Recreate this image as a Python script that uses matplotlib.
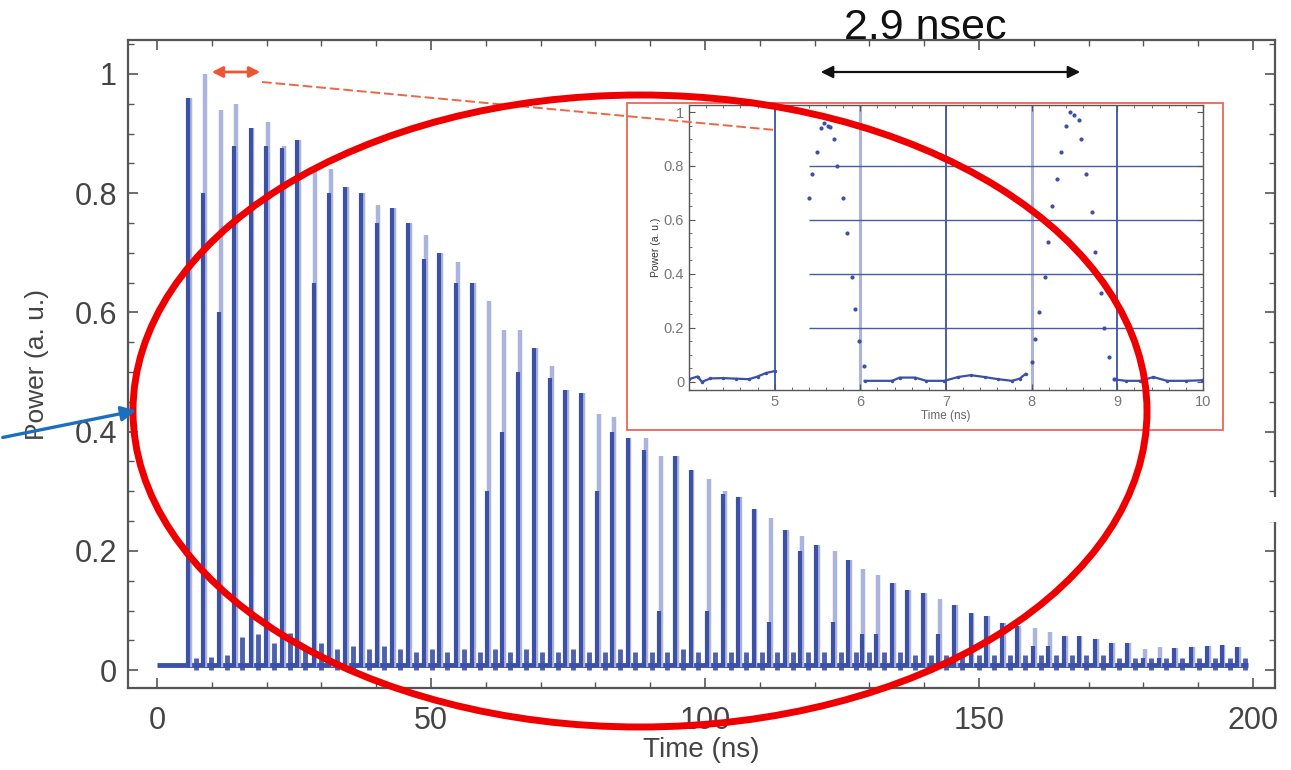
import numpy as np
import matplotlib.pyplot as plt
from matplotlib.patches import Ellipse, Rectangle, FancyArrowPatch
from matplotlib.lines import Line2D
from matplotlib.ticker import MultipleLocator

plt.rcParams['font.family'] = ['Liberation Sans', 'DejaVu Sans']

# main trace: pulse times (ns), peak power, top of the dark (overlapping) part
pulse_t = [5.7, 8.4, 11.3, 14.1, 17.1, 19.9, 22.8, 25.6, 28.6, 31.4,
           34.3, 37.2, 40.1, 42.9, 45.8, 48.7, 51.5, 54.6, 57.5, 60.2,
           63.0, 65.9, 68.8, 71.7, 74.5, 77.4, 80.3, 83.0, 85.9, 88.9,
           91.6, 94.5, 97.4, 100.4, 103.3, 106.0, 108.9, 111.7, 114.6, 117.3,
           120.3, 123.4, 126.1, 128.6, 131.2, 134.1, 136.9, 139.8, 142.5, 145.4,
           148.5, 151.3, 154.2, 156.9, 159.9, 162.6, 165.5, 168.2, 171.2, 174.1,
           177.0, 179.9, 182.8, 185.6, 188.7, 191.6, 194.3, 197.1]
pulse_peak = [0.96, 1.00, 0.94, 0.95, 0.91, 0.92, 0.88, 0.89, 0.84, 0.84,
              0.81, 0.80, 0.78, 0.775, 0.75, 0.73, 0.70, 0.685, 0.65, 0.62,
              0.57, 0.57, 0.54, 0.51, 0.47, 0.465, 0.43, 0.425, 0.39, 0.39,
              0.36, 0.36, 0.335, 0.32, 0.30, 0.29, 0.27, 0.255, 0.235, 0.225,
              0.21, 0.20, 0.185, 0.17, 0.16, 0.146, 0.134, 0.13, 0.12, 0.11,
              0.096, 0.09, 0.079, 0.074, 0.071, 0.064, 0.058, 0.057, 0.052, 0.045,
              0.046, 0.035, 0.039, 0.037, 0.039, 0.040, 0.042, 0.039]
pulse_dark = [0.96, 0.80, 0.60, 0.88, 0.91, 0.88, 0.875, 0.89, 0.65, 0.80,
              0.81, 0.80, 0.75, 0.775, 0.75, 0.69, 0.70, 0.65, 0.65, 0.30,
              0.40, 0.50, 0.54, 0.49, 0.47, 0.465, 0.30, 0.40, 0.39, 0.37,
              0.10, 0.36, 0.335, 0.10, 0.295, 0.29, 0.27, 0.08, 0.235, 0.20,
              0.21, 0.08, 0.185, 0.06, 0.06, 0.146, 0.134, 0.13, 0.06, 0.11,
              0.096, 0.09, 0.079, 0.074, 0.04, 0.04, 0.058, 0.057, 0.052, 0.045,
              0.046, 0.02, 0.02, 0.037, 0.039, 0.040, 0.042, 0.039]
# ringing on the baseline after each pulse
ripple = [0.02, 0.022, 0.025, 0.055, 0.06, 0.045, 0.063, 0.04, 0.045, 0.035,
          0.04, 0.035, 0.04, 0.035, 0.03, 0.035, 0.03, 0.035, 0.03, 0.035,
          0.03, 0.035, 0.03, 0.03, 0.035, 0.03, 0.03, 0.035, 0.03, 0.03,
          0.03, 0.035, 0.03, 0.03, 0.03, 0.03, 0.03, 0.03, 0.03, 0.03,
          0.03, 0.03, 0.03, 0.03, 0.03, 0.03, 0.025, 0.025, 0.025, 0.025,
          0.025, 0.025, 0.025, 0.025, 0.025, 0.025, 0.025, 0.025, 0.025, 0.02,
          0.02, 0.02, 0.02, 0.02, 0.02, 0.02, 0.02, 0.02]
base_level = 0.008

# inset: samples between 4 and 10 ns
in_b1_t = [4.0, 4.1, 4.15, 4.25, 4.4, 4.55, 4.7, 4.8, 4.9, 5.0]
in_b1_p = [0.01, 0.02, 0.0, 0.013, 0.014, 0.012, 0.01, 0.02, 0.033, 0.04]
in_b2_t = [6.05, 6.37, 6.46, 6.64, 6.77, 6.98, 7.14, 7.29, 7.45, 7.61, 7.77, 7.86, 7.93]
in_b2_p = [0.004, 0.004, 0.016, 0.016, 0.004, 0.004, 0.018, 0.025, 0.018, 0.01, 0.004, 0.012, 0.03]
in_b3_t = [8.97, 9.1, 9.27, 9.42, 9.58, 9.8, 9.99]
in_b3_p = [0.009, 0.004, 0.004, 0.018, 0.004, 0.004, 0.006]
in_p1_t = [5.40, 5.44, 5.49, 5.54, 5.58, 5.62, 5.65, 5.69, 5.73, 5.80, 5.85, 5.90, 5.94, 5.98, 6.04]
in_p1_p = [0.68, 0.77, 0.85, 0.94, 0.96, 0.95, 0.945, 0.90, 0.80, 0.68, 0.55, 0.39, 0.27, 0.15, 0.06]
in_p2_t = [8.0, 8.04, 8.09, 8.15, 8.19, 8.24, 8.30, 8.34, 8.40, 8.45, 8.49, 8.55, 8.58,
           8.63, 8.70, 8.74, 8.81, 8.85, 8.90, 8.96]
in_p2_p = [0.074, 0.16, 0.26, 0.39, 0.52, 0.65, 0.75, 0.85, 0.95, 1.0, 0.99, 0.97, 0.90,
           0.77, 0.63, 0.48, 0.33, 0.20, 0.094, 0.012]

dark = '#3b50a6'
light = '#aab4dc'
gray = '#555555'

W, H = 1291, 770
fig = plt.figure(figsize=(W / 100, H / 100), dpi=100)


def fr(x0, y0, x1, y1):
    # pixel box -> figure fraction rect
    return [x0 / W, 1 - y1 / H, (x1 - x0) / W, (y1 - y0) / H]


def fp(x, y):
    return (x / W, 1 - y / H)


# ---- main plot
ax = fig.add_axes(fr(128, 40, 1275, 688))
t = np.array(pulse_t)
ax.hlines(base_level, 0, t[-1] + 2, color=dark, lw=3.5)
ax.vlines(t + 1.4, 0, ripple, color=dark, lw=3.5, alpha=0.9)
ax.vlines(t + 0.3, 0.005, pulse_peak, color=light, lw=3.2)
ax.vlines(t, 0.005, pulse_dark, color=dark, lw=3)

ax.set_xlim(-5.3, 204)
ax.set_ylim(-0.03, 1.057)
ax.xaxis.set_major_locator(MultipleLocator(50))
ax.xaxis.set_minor_locator(MultipleLocator(10))
ax.yaxis.set_minor_locator(MultipleLocator(0.05))
ax.set_yticks([0, 0.2, 0.4, 0.6, 0.8, 1.0])
ax.set_yticklabels(['0', '0.2', '0.4', '0.6', '0.8', '1'])
ax.tick_params(which='both', direction='in', top=True, right=True, color=gray,
               labelcolor='#444444', labelsize=22)
ax.tick_params(which='major', length=7, width=1.2)
ax.tick_params(which='minor', length=4, width=1)
ax.tick_params(axis='x', pad=13)
ax.tick_params(axis='y', pad=8)
for s in ax.spines.values():
    s.set_color(gray)
    s.set_linewidth(1.6)
ax.set_xlabel('Time (ns)', fontsize=20, color='#444444', labelpad=1)
ax.set_ylabel('Power (a. u.)', fontsize=19, color='#444444', labelpad=18)

# ---- inset box and axes
box = Rectangle(fp(627, 430), (1223 - 627) / W, (430 - 103) / H, transform=fig.transFigure,
                facecolor='white', edgecolor='#ee6655', lw=1.3, zorder=1)
fig.patches.append(box)

ins = fig.add_axes(fr(689, 105, 1203, 390))
ins.set_zorder(2)
ins.set_xlim(4, 10)
ins.set_ylim(-0.03, 1.026)
for xv, c, w in [(5, dark, 1.3), (6, light, 2.2), (7, dark, 1.3), (8, light, 2.2), (9, dark, 1.3)]:
    ins.axvline(xv, color=c, lw=w, zorder=1)
ins.hlines([0.2, 0.4, 0.6, 0.8], 5.4, 10, color='#4a5aa8', lw=1, zorder=1)
for bt, bp in [(in_b1_t, in_b1_p), (in_b2_t, in_b2_p), (in_b3_t, in_b3_p)]:
    ins.plot(bt, bp, '-', color=dark, lw=1.6, marker='.', ms=3, zorder=3)
ins.plot(in_p1_t, in_p1_p, '.', color=dark, ms=4, zorder=3)
ins.plot(in_p2_t, in_p2_p, '.', color=dark, ms=4, zorder=3)
ins.set_xticks([5, 6, 7, 8, 9, 10])
ins.set_yticks([0, 0.2, 0.4, 0.6, 0.8, 1.0])
ins.set_yticklabels(['0', '0.2', '0.4', '0.6', '0.8', '1'])
ins.xaxis.set_minor_locator(MultipleLocator(0.2))
ins.yaxis.set_minor_locator(MultipleLocator(0.05))
ins.tick_params(which='both', direction='in', top=True, right=True, color=gray,
                labelcolor='#777777', labelsize=10.5)
ins.tick_params(which='major', length=4)
ins.tick_params(which='minor', length=2)
for s in ins.spines.values():
    s.set_color(gray)
    s.set_linewidth(1)
ins.set_xlabel('Time (ns)', fontsize=8.5, color='#666666', labelpad=1)
ins.set_ylabel('Power (a. u.)', fontsize=7.5, color='#333333', labelpad=2)

# ---- annotations
fig.text(925 / W, 1 - 28 / H, '2.9 nsec', fontsize=31, color='#111111',
         ha='center', va='center')
fig.patches.append(FancyArrowPatch(fp(818, 72), fp(1083, 72), transform=fig.transFigure,
                                   arrowstyle='<|-|>', mutation_scale=18, lw=1.6,
                                   color='#111111', zorder=5))
fig.patches.append(FancyArrowPatch(fp(209, 72), fp(263, 72), transform=fig.transFigure,
                                   arrowstyle='<|-|>', mutation_scale=16, lw=2,
                                   color='#ee5533', zorder=5))
fig.lines.append(Line2D([262 / W, 775 / W], [1 - 82 / H, 1 - 130 / H], transform=fig.transFigure,
                        color='#ee6644', lw=1.4, ls=(0, (5, 2)), zorder=5))
fig.patches.append(Ellipse(fp(640, 411), 1014 / W, 632 / H, transform=fig.transFigure,
                           fill=False, edgecolor='#ee0000', lw=5, zorder=6))
fig.patches.append(FancyArrowPatch(fp(0, 438), fp(139, 410), transform=fig.transFigure,
                                   arrowstyle='-|>', mutation_scale=22, lw=2.4,
                                   color='#1c6fbf', zorder=6))
# break in the right frame line
fig.patches.append(Rectangle(fp(1266, 522), 20 / W, 25 / H, transform=fig.transFigure,
                             facecolor='white', edgecolor='none', zorder=4))

fig.savefig('out.png', dpi=100)
